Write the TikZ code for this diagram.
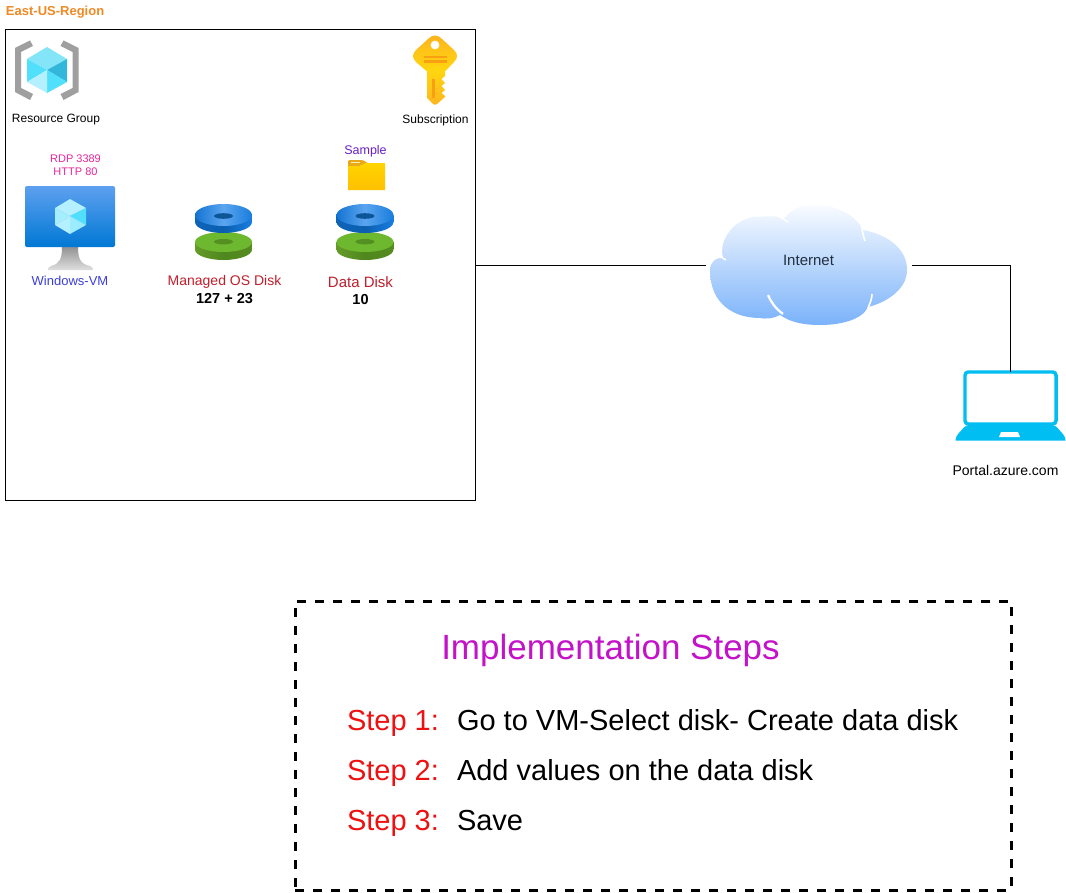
\documentclass[tikz,border=0pt]{standalone}
\usepackage{fontspec}
\setmainfont{Liberation Sans}
\definecolor{laptopblue}{HTML}{00BEF2}
\definecolor{regionorange}{HTML}{F08A24}
\definecolor{rdppink}{HTML}{E6289A}
\definecolor{vmblue}{HTML}{3B3FD8}
\definecolor{diskred}{HTML}{C01F2B}
\definecolor{samplepurple}{HTML}{6A1FC8}
\definecolor{stepred}{HTML}{EE1111}
\definecolor{titlemag}{HTML}{C312C8}
\definecolor{cubepale}{HTML}{B4F0FF}
\definecolor{cubetop}{HTML}{83E5F7}
\definecolor{cubecyan}{HTML}{50E0FC}
\definecolor{cubedark}{HTML}{32B7DA}
\definecolor{keyedge}{HTML}{FDB51E}
\definecolor{keymid}{HTML}{FFD60F}
\definecolor{keybar}{HTML}{F9A012}
\newcommand{\pxfont}[1]{\fontsize{\dimexpr#1pt*3/4\relax}{\dimexpr#1pt*9/10\relax}\selectfont}
\tikzset{
  x=0.75pt,y=-0.75pt,
  lbl/.style={inner sep=0pt,outer sep=0pt,align=center,font=\pxfont{12}},
  smalllbl/.style={lbl,font=\pxfont{11}},
  steplbl/.style={inner sep=0pt,outer sep=0pt,anchor=base west,font=\pxfont{29}},
  conn/.style={draw=black,line width=0.75pt},
  ghost/.style={inner sep=0pt,outer sep=0pt,minimum height=1pt},
  notch/.style={white,line width=1.2pt},
}
\newcommand{\drawdisk}[1]{%
  \begin{scope}[shift={(#1,0)}]
    \shade[left color={rgb,255:red,100;green,155;blue,40},right color={rgb,255:red,85;green,140;blue,32},middle color={rgb,255:red,80;green,135;blue,30}] (-28.5,242) -- (-28.5,249.5) arc[start angle=180,end angle=0,x radius=28.5,y radius=10.5] -- (28.5,242) -- cycle;
    \fill[fill={rgb,255:red,110;green,184;blue,48}] (0,242) ellipse[x radius=28.5,y radius=10];
    \fill[fill={rgb,255:red,84;green,143;blue,34}] (0,241.7) ellipse[x radius=9.5,y radius=2.7];
    \shade[left color={rgb,255:red,15;green,100;blue,185},right color={rgb,255:red,25;green,125;blue,225},middle color={rgb,255:red,10;green,95;blue,175}] (-28.5,215) -- (-28.5,222) arc[start angle=180,end angle=0,x radius=28.5,y radius=11] -- (28.5,215) -- cycle;
    \shade[left color={rgb,255:red,20;green,115;blue,210},right color={rgb,255:red,25;green,125;blue,220},middle color={rgb,255:red,90;green,165;blue,240}] (0,215) ellipse[x radius=28.5,y radius=11];
    \fill[fill={rgb,255:red,12;green,85;blue,150}] (0,216) ellipse[x radius=9.5,y radius=2.8];
  \end{scope}}
\begin{document}
\begin{tikzpicture}
\useasboundingbox (0,0) rectangle (1066,892);
\fill[white] (0,0) rectangle (1066,892);

% region box
\node[draw=black,line width=0.75pt,inner sep=0pt,outer sep=0pt,minimum width=352.5pt,minimum height=352.5pt] (region) at (240,265) {};
\node[lbl,anchor=west,text=regionorange,font=\pxfont{13}\bfseries] (regionlabel) at (6,12) {East-US-Region};

% resource group icon
\fill[gray!75] (30,40.5) -- (33,46) -- (21,52) -- (21,88) -- (33,94) -- (30,100) -- (15,92) -- (15,48) -- cycle;
\fill[gray!75] (63.5,40.5) -- (60.5,46) -- (72.5,52) -- (72.5,88) -- (60.5,94) -- (63.5,100) -- (78.5,92) -- (78.5,48) -- cycle;
\fill[cubetop] (47,47) -- (67,59) -- (47,70) -- (27,59) -- cycle;
\fill[cubecyan] (27,59) -- (47,70) -- (27,82) -- cycle;
\fill[cubedark] (67,59) -- (47,70) -- (67,82) -- cycle;
\fill[cubecyan] (47,70) -- (67,82) -- (47,93) -- cycle;
\fill[cubepale] (47,70) -- (47,93) -- (27,82) -- cycle;
\node[lbl] (rglabel) at (56,120) {Resource Group};

% subscription key
\shade[top color=keyedge,bottom color=keyedge,middle color=keymid,even odd rule]
  (435,35.5) .. controls (438,35.5) and (440,37) .. (442,39) -- (454,50) .. controls (458,54) and (458,58) .. (454,62) -- (445,71.5)
  -- (445,76) -- (441.5,79) -- (445,83) -- (441.5,86) -- (445,90) -- (441.5,93) -- (445,96) -- (445,97) -- (437,104) .. controls (436,105) and (434,105) .. (433,104) -- (427,98) -- (427,71.5)
  -- (416,62) .. controls (412,58) and (412,54) .. (416,50) -- (428,39) .. controls (430,37) and (432,35.5) .. (435,35.5) -- cycle
  (435,45) circle[radius=4.5];
\fill[keybar] (424,56) rectangle (447,58.5);
\fill[keybar] (424,60.5) rectangle (447,63);
\fill[keybar] (432,79) rectangle (434.5,98);
\node[lbl] (sublabel) at (435.5,120) {Subscription};

% ports
\node[smalllbl,text=rdppink] (ports) at (75.5,165.5) {RDP 3389\\HTTP 80};

% VM monitor
\shade[top color=gray!85,bottom color=gray!25] (62,247) -- (78,247) .. controls (78,258) and (80,264) .. (90,266) .. controls (93,267) and (93,269) .. (93,270) -- (48,270) .. controls (48,269) and (48,267) .. (51,266) .. controls (60,264) and (62,258) .. (62,247) -- cycle;
\shade[top color={rgb,255:red,94;green,160;blue,239},bottom color={rgb,255:red,0;green,120;blue,212},rounded corners=1.5pt] (25,186) rectangle (115,247);
\fill[cubepale] (70,199) -- (86,208) -- (70,216) -- (55,208) -- cycle;
\fill[cubecyan] (86,208) -- (86,225) -- (70,216) -- cycle;
\fill[cubepale!75!cubecyan] (70,216) -- (86,225) -- (70,234) -- cycle;
\fill[cubepale!85!cubecyan] (55,208) -- (70,216) -- (55,225) -- cycle;
\fill[cubepale] (55,225) -- (70,216) -- (70,234) -- cycle;
\node[lbl,text=vmblue,font=\pxfont{13}] (vmlabel) at (70,280.5) {Windows-VM};

% disks
\drawdisk{223.5}
\drawdisk{365}
\node[lbl,text=diskred,font=\pxfont{14}] (oslabel) at (224.5,281.5) {Managed OS Disk};
\node[lbl,font=\pxfont{14.5}\bfseries] (ossize) at (224.5,299) {127 + 23};
\node[lbl,text=diskred,font=\pxfont{15}] (datalabel) at (360.5,282) {Data Disk};
\node[lbl,font=\pxfont{14.5}\bfseries] (datasize) at (360.5,300) {10};

% folder
\fill[fill={rgb,255:red,232;green,170;blue,25},rounded corners=1pt] (348,167) -- (348,160) -- (363,160) -- (369,164) -- (369,167) -- cycle;
\shade[top color={rgb,255:red,255;green,212;blue,0},bottom color={rgb,255:red,255;green,192;blue,0}] (348,166) -- (359,166) -- (366,163) -- (385,163) -- (385,190) -- (348,190) -- cycle;
\fill[fill={rgb,255:red,250;green,235;blue,180}] (351,161.6) rectangle (360,163);
\node[lbl,text=samplepurple,font=\pxfont{12.5}] (samplelabel) at (365.5,151) {Sample};

% cloud
\node[ghost,minimum width=154.5pt] (cloud) at (809,265) {};
\shade[top color={rgb,255:red,250;green,252;blue,255},bottom color={rgb,255:red,122;green,178;blue,250}]
  (710,270) .. controls (710,262) and (716,257) .. (723,258)
  .. controls (718,240) and (735,217) .. (757,217)
  .. controls (768,216) and (778,216) .. (785,218)
  .. controls (792,208) and (802,205) .. (813,205)
  .. controls (835,204) and (856,215) .. (863,230)
  .. controls (885,234) and (907,247) .. (907,270)
  .. controls (907,290) and (885,303) .. (868,307)
  .. controls (862,320) and (840,325) .. (820,325)
  .. controls (803,325) and (790,322) .. (780,315)
  .. controls (772,319) and (765,319) .. (760,318)
  .. controls (735,318) and (710,305) .. (710,270) -- cycle;
\draw[notch,line width=1.7pt] (768,295) .. controls (771,302) and (775,308) .. (783,314);
\draw[notch] (872,294) .. controls (872,299) and (870,303) .. (868,308);
\draw[notch] (861,222) .. controls (862,230) and (863,235) .. (865,241);
\draw[notch] (778,216) .. controls (782,218) and (785,220) .. (788,222);
\draw[notch] (719,253) .. controls (720,256) and (722,258) .. (726,260);
\node[lbl,text={rgb,255:red,35;green,47;blue,62},font=\pxfont{15}] (internet) at (808.5,260.5) {Internet};

% laptop
\node[ghost,minimum width=68.25pt,minimum height=39pt,draw=laptopblue,line width=2.6pt,rounded corners=2.5pt] (laptop) at (1010.5,398) {};
\fill[laptopblue,rounded corners=2.5pt] (966,425) -- (1055,425) -- (1065.5,437) .. controls (1065.5,440) and (1064,440.5) .. (1062,440.5) -- (959,440.5) .. controls (957,440.5) and (955.5,440) .. (955.5,437) -- cycle;
\fill[white] (1001,432) -- (1018,432) -- (1020,437) -- (999,437) -- cycle;
\node[lbl,font=\pxfont{14}] (portal) at (1005.5,470) {Portal.azure.com};

% connectors
\draw[conn] (region.east) -- (cloud.west);
\draw[conn] (cloud.east) -| (laptop.north);

% steps box
\node[draw=black,line width=2.25pt,dash pattern=on 6.75pt off 6.75pt,inner sep=0pt,minimum width=537pt,minimum height=216.75pt] (stepsbox) at (653,745.5) {};
\node[inner sep=0pt,text=titlemag,font=\pxfont{35}] (title) at (610.5,650) {Implementation Steps};
\node[steplbl,text=stepred] (s1) at (347,730) {Step 1:};
\node[steplbl] (t1) at (457,730) {Go to VM-Select disk- Create data disk};
\node[steplbl,text=stepred] (s2) at (347,780) {Step 2:};
\node[steplbl] (t2) at (457,780) {Add values on the data disk};
\node[steplbl,text=stepred] (s3) at (347,830) {Step 3:};
\node[steplbl] (t3) at (457,830) {Save};
\end{tikzpicture}
\end{document}
